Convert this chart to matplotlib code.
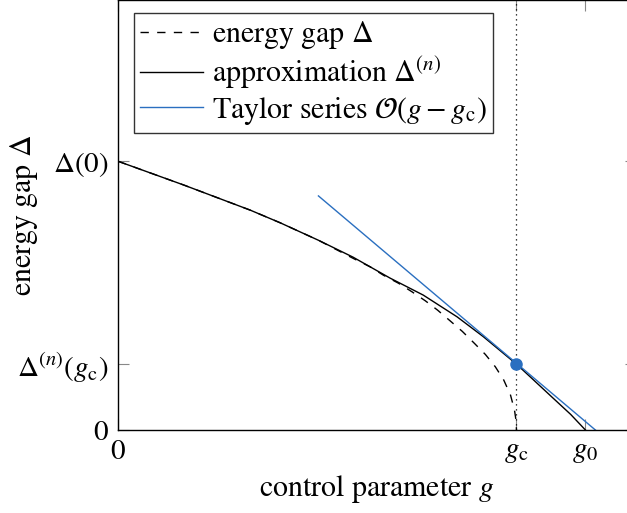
import matplotlib
matplotlib.use("Agg")
import matplotlib.pyplot as plt

plt.rcParams['font.family'] = ['STIXGeneral', 'DejaVu Serif']
plt.rcParams['mathtext.fontset'] = 'stix'
plt.rcParams['font.size'] = 21.5

# energy gap (exact), vanishes at g_c
gap_g = [0.0, 0.166, 0.332, 0.407, 0.503, 0.591, 0.633, 0.666, 0.704, 0.738,
         0.771, 0.802, 0.832, 0.864, 0.894, 0.922, 0.947, 0.968, 0.985, 0.995,
         0.9987, 1.0]
gap_delta = [1.0, 0.911, 0.818, 0.771, 0.706, 0.638, 0.607, 0.576, 0.546, 0.514,
             0.481, 0.446, 0.408, 0.367, 0.323, 0.281, 0.235, 0.186, 0.130, 0.074,
             0.037, 0.0]

# approximation Delta^(n), vanishes at g_0
approx_g = [0.0, 0.166, 0.332, 0.407, 0.503, 0.590, 0.683, 0.766, 0.851, 0.917,
            1.0, 1.035, 1.085, 1.136, 1.173]
approx_delta = [1.0, 0.911, 0.818, 0.771, 0.706, 0.643, 0.565, 0.502, 0.421, 0.347,
                0.245, 0.197, 0.128, 0.058, 0.0]

# first order Taylor series around g_c
taylor_g = [0.503, 1.198]
taylor_delta = [0.871, 0.0]

g_c = 1.0
g_0 = 1.173
delta_0 = 1.0
delta_n_gc = 0.245

blue = '#2a6fc0'

fig = plt.figure(figsize=(6.27, 5.13), dpi=100)
ax = fig.add_axes([0.1882, 0.1618, 0.8262, 0.8382])

ax.axvline(g_c, color='black', lw=0.9, linestyle=(0, (1, 3)))
ax.plot(gap_g, gap_delta, color='black', lw=1.0, dashes=(6, 6),
        label=r'energy gap $\Delta$')
ax.plot(approx_g, approx_delta, color='black', lw=1.0,
        label=r'approximation $\Delta^{(n)}$')
ax.plot(taylor_g, taylor_delta, color=blue, lw=1.0,
        label=r'Taylor series $\mathcal{O}(g-g_\mathrm{c})$')
ax.plot([g_c], [delta_n_gc], 'o', color=blue, markersize=8)

ax.set_xlim(0, 1.30)
ax.set_ylim(0, 1.6)

ax.set_xticks([0, g_c, g_0])
ax.set_xticklabels(['0', r'$g_\mathrm{c}$', r'$g_0$'])
ax.set_yticks([0, delta_n_gc, delta_0])
ax.set_yticklabels(['0', r'$\Delta^{(n)}(g_\mathrm{c})$', r'$\Delta(0)$'])
ax.tick_params(direction='in', length=8, width=0.8, color='#888888',
               top=True, right=True, pad=7, labelsize=21)

for s in ax.spines.values():
    s.set_linewidth(1.0)

ax.set_xlabel(r'control parameter $g$')
ax.set_ylabel(r'energy gap $\Delta$')
ax.xaxis.set_label_coords(0.5, -0.1)
ax.yaxis.set_label_coords(-0.15, 0.5)

leg = ax.legend(loc='upper left', bbox_to_anchor=(0.03, 0.97), fancybox=False,
                edgecolor='#333333', framealpha=1, handlelength=2.1,
                handletextpad=0.3, labelspacing=0.12, borderpad=0.22,
                borderaxespad=0)
leg.get_frame().set_linewidth(1.0)

fig.savefig('out.png', dpi=100)
